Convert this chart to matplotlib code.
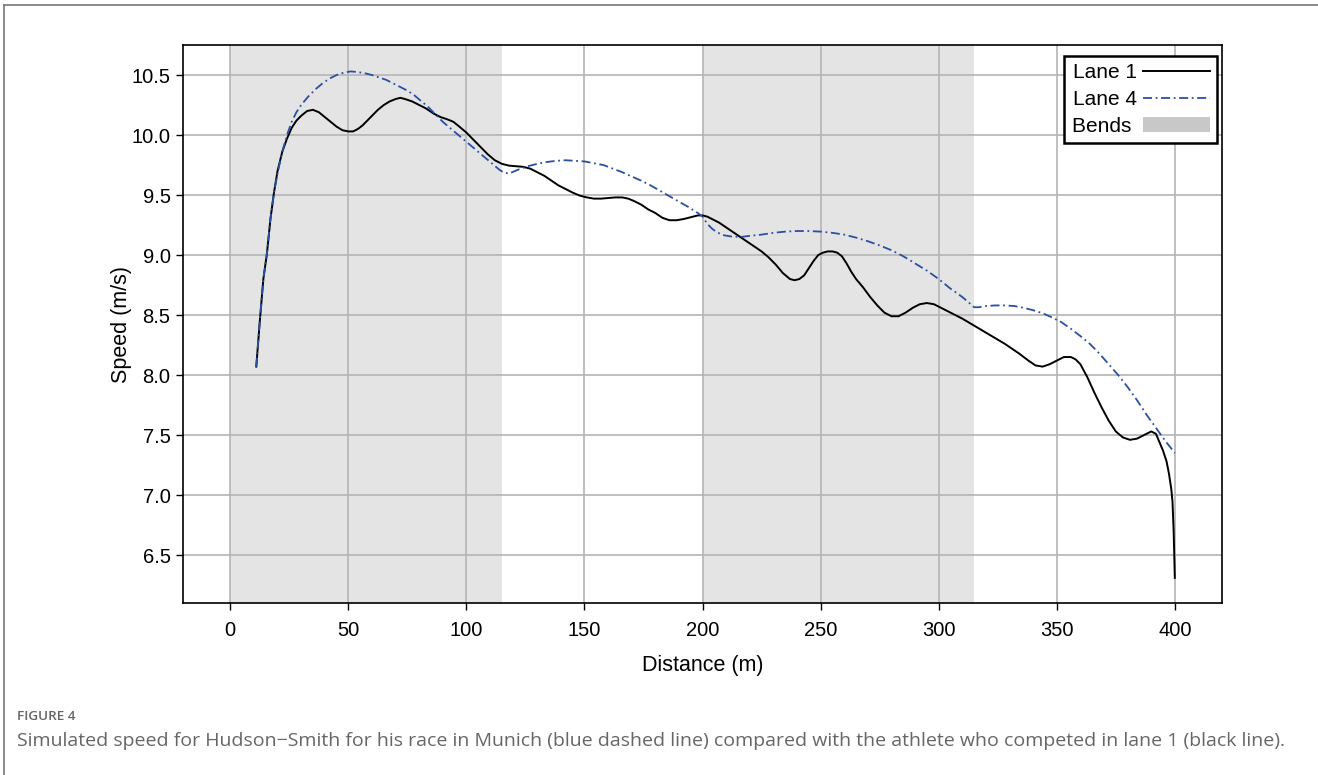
import matplotlib.pyplot as plt
from matplotlib.patches import Patch
from matplotlib.lines import Line2D

plt.rcParams['font.family'] = ['Liberation Sans', 'DejaVu Sans']

# lane 1 (black)
lane1_dist = [11, 12.5, 14, 15.5, 17, 18.5, 20, 22, 24, 26, 28, 30, 32.5, 35, 37.5, 40, 42.5, 45, 47.5,
              50, 52, 54, 56, 58, 60, 62.5, 65, 67.5, 70, 72, 74, 77, 80, 83, 86, 89, 92, 94.5, 97,
              100, 103, 106, 109, 112, 115, 118, 121, 124, 127, 130, 133, 136, 139, 142, 145, 148,
              151, 154, 157, 160, 163, 166, 168.5, 171, 174, 177, 180, 183, 186, 189, 192, 195, 198,
              200, 202, 204, 207, 210, 213, 216, 219, 222, 225, 228, 231, 234, 237, 239, 241, 243,
              245, 247, 249, 251, 253, 255, 257, 259, 261, 263, 265, 268, 271, 274, 277, 280, 283,
              286, 289, 292, 295, 298, 301, 305, 310, 316, 322, 328, 334, 338, 341, 344, 347, 350,
              353, 356, 358, 360, 363, 366, 369, 372, 375, 378, 381, 384, 387, 390, 392, 393.5, 395,
              396.5, 397.5, 398.5, 399, 399.5, 400]
lane1_speed = [8.07, 8.45, 8.80, 9.01, 9.30, 9.52, 9.70, 9.86, 9.97, 10.06, 10.12, 10.16, 10.20, 10.21,
               10.19, 10.15, 10.11, 10.07, 10.04, 10.03, 10.03, 10.05, 10.08, 10.12, 10.16, 10.21,
               10.25, 10.28, 10.30, 10.31, 10.30, 10.28, 10.25, 10.22, 10.18, 10.15, 10.13, 10.11,
               10.07, 10.02, 9.96, 9.90, 9.84, 9.79, 9.76, 9.745, 9.74, 9.735, 9.72, 9.69, 9.66, 9.62,
               9.58, 9.55, 9.52, 9.495, 9.48, 9.47, 9.47, 9.475, 9.48, 9.48, 9.47, 9.45, 9.42, 9.38,
               9.35, 9.31, 9.29, 9.29, 9.30, 9.315, 9.33, 9.33, 9.32, 9.30, 9.27, 9.23, 9.19, 9.15,
               9.11, 9.07, 9.03, 8.98, 8.92, 8.85, 8.80, 8.79, 8.80, 8.83, 8.89, 8.95, 9.00, 9.02,
               9.03, 9.03, 9.02, 8.99, 8.93, 8.86, 8.80, 8.73, 8.65, 8.58, 8.52, 8.49, 8.49, 8.52,
               8.56, 8.59, 8.60, 8.59, 8.56, 8.52, 8.47, 8.40, 8.33, 8.26, 8.18, 8.12, 8.08, 8.07,
               8.09, 8.12, 8.15, 8.15, 8.13, 8.09, 7.98, 7.85, 7.73, 7.62, 7.53, 7.48, 7.46, 7.47,
               7.50, 7.53, 7.51, 7.44, 7.37, 7.28, 7.18, 7.05, 6.95, 6.70, 6.31]

# lane 4 (blue dash-dot)
lane4_dist = [11, 12.5, 14, 15.5, 17, 18.5, 20, 22, 24, 26, 28, 30, 33, 36, 39, 42, 45, 48, 51, 54, 57,
              60, 63, 66, 69, 72, 75, 78, 81, 84, 87, 90, 93, 96, 99, 102, 105, 108, 111, 114, 116,
              118, 120, 123, 126, 130, 134, 138, 142, 146, 150, 154, 158, 162, 166, 170, 174, 178,
              182, 186, 190, 194, 198, 200, 202, 204, 206, 209, 212, 216, 220, 225, 230, 235, 240,
              245, 250, 255, 260, 265, 270, 275, 280, 285, 290, 295, 300, 305, 310, 313, 315, 317,
              320, 324, 328, 332, 336, 340, 344, 348, 352, 356, 360, 364, 368, 372, 376, 380, 384,
              388, 392, 396, 400]
lane4_speed = [8.07, 8.45, 8.80, 9.01, 9.30, 9.52, 9.68, 9.86, 10.00, 10.11, 10.19, 10.25, 10.32, 10.38,
               10.43, 10.47, 10.50, 10.52, 10.53, 10.525, 10.515, 10.50, 10.48, 10.46, 10.43, 10.40,
               10.37, 10.33, 10.28, 10.23, 10.17, 10.11, 10.06, 10.01, 9.96, 9.91, 9.86, 9.81, 9.76,
               9.71, 9.685, 9.68, 9.695, 9.72, 9.74, 9.76, 9.775, 9.785, 9.79, 9.785, 9.78, 9.765,
               9.75, 9.72, 9.69, 9.655, 9.62, 9.58, 9.535, 9.49, 9.445, 9.40, 9.35, 9.32, 9.26, 9.22,
               9.19, 9.165, 9.155, 9.15, 9.16, 9.17, 9.185, 9.195, 9.20, 9.20, 9.195, 9.185, 9.17,
               9.145, 9.115, 9.08, 9.04, 8.99, 8.93, 8.87, 8.80, 8.72, 8.65, 8.60, 8.565, 8.565,
               8.575, 8.58, 8.58, 8.575, 8.56, 8.54, 8.515, 8.48, 8.44, 8.385, 8.325, 8.26, 8.18,
               8.09, 8.00, 7.90, 7.79, 7.67, 7.56, 7.45, 7.35]

bends = [(0, 115), (200, 315)]
xticks = [0, 50, 100, 150, 200, 250, 300, 350, 400]
yticks = [6.5, 7.0, 7.5, 8.0, 8.5, 9.0, 9.5, 10.0, 10.5]
blue = '#2b4fa3'

fig = plt.figure(figsize=(13.18, 7.75), dpi=100)
ax = fig.add_axes([0.1389, 0.2219, 0.7883, 0.72])

for start, end in bends:
    ax.axvspan(start, end, color='#e4e4e4', zorder=0, lw=0)

ax.plot(lane1_dist, lane1_speed, color='black', lw=1.4, zorder=3)
ax.plot(lane4_dist, lane4_speed, color=blue, lw=1.3, ls=(0, (5, 2, 1, 2)), zorder=3)

ax.set_xlim(-20, 420)
ax.set_ylim(6.1, 10.75)
ax.set_xticks(xticks)
ax.set_yticks(yticks)
ax.set_yticklabels([f'{v:.1f}' for v in yticks])
ax.grid(True, color='#b4b4b4', lw=1.2)
for line in ax.get_xgridlines() + ax.get_ygridlines():
    line.set_zorder(1)
ax.tick_params(labelsize=14.5, length=5, width=1, colors='black')
ax.tick_params(axis='x', pad=8)
ax.tick_params(axis='y', pad=4)
for s in ax.spines.values():
    s.set_linewidth(1.2)
ax.set_xlabel('Distance (m)', fontsize=15.5, labelpad=11)
ax.set_ylabel('Speed (m/s)', fontsize=15.5, labelpad=0)

handles = [Line2D([], [], color='black', lw=1.4),
           Line2D([], [], color=blue, lw=1.3, ls=(0, (5, 2, 1, 2))),
           Patch(facecolor='#c8c8c8', edgecolor='none')]
leg = ax.legend(handles, ['Lane 1', 'Lane 4', 'Bends '], loc='upper right',
                bbox_to_anchor=(1 - 5 / 1039, 1 - 11 / 558), borderaxespad=0, fontsize=15,
                markerfirst=False, fancybox=False, framealpha=1, edgecolor='black',
                handlelength=3.2, handletextpad=0.3, borderpad=0.35, labelspacing=0.37)
leg.get_frame().set_linewidth(1.8)
leg.set_zorder(5)

# figure frame (top and left)
fig.add_artist(Line2D([4 / 1318, 1], [1 - 5 / 775, 1 - 5 / 775], color='#777777', lw=1.2))
fig.add_artist(Line2D([4 / 1318, 4 / 1318], [0, 1 - 5 / 775], color='#777777', lw=1.2))

fig.text(17 / 1318, 1 - 717 / 775, 'FIGURE 4', fontsize=9.7, color='#666666',
         family=['Open Sans', 'DejaVu Sans'], fontweight='semibold', va='center')
fig.text(17 / 1318, 1 - 741 / 775,
         'Simulated speed for Hudson\u2212Smith for his race in Munich (blue dashed line) compared with the athlete who competed in lane 1 (black line).',
         fontsize=14, color='#666666', family=['Open Sans', 'DejaVu Sans'], va='center')

fig.savefig('out.png', dpi=100)
